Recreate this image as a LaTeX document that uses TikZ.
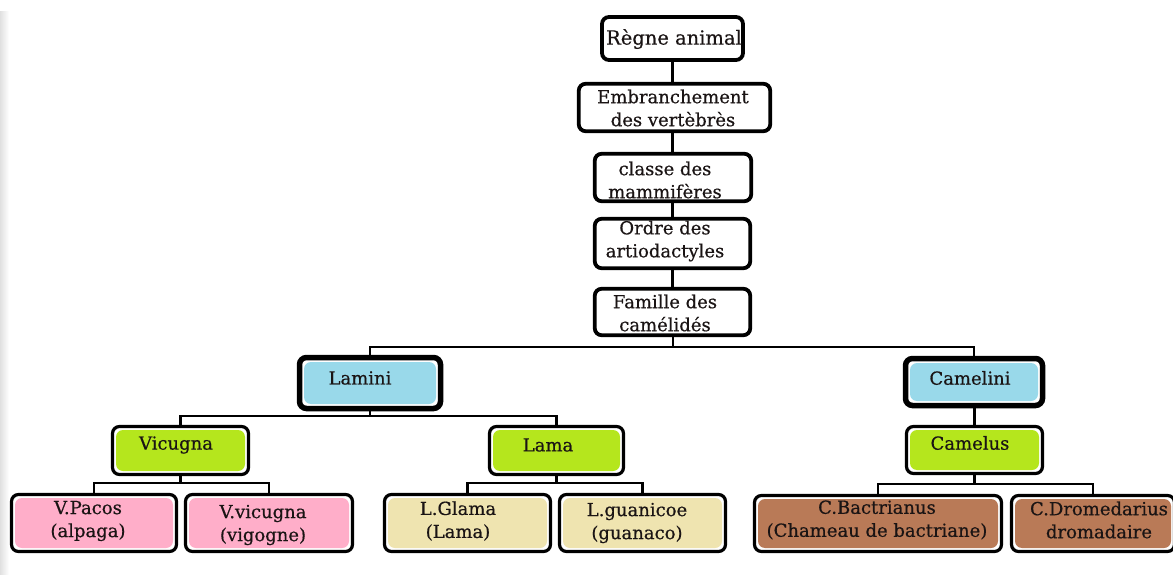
\documentclass[tikz,border=0pt]{standalone}
\usepackage{fontspec}
\setmainfont[FakeBold=0.5]{DejaVu Serif}
\definecolor{tribeblue}{HTML}{99D9EA}
\definecolor{genusgreen}{HTML}{B5E61D}
\definecolor{sppink}{HTML}{FFAEC9}
\definecolor{spcream}{HTML}{EFE4B0}
\definecolor{spbrown}{HTML}{B97A57}
\definecolor{ink}{HTML}{1A1414}
\begin{document}
\begin{tikzpicture}[x=1pt,y=-1pt,
  boxbase/.style={draw=black, fill=white, rounded corners=7pt, inner sep=0pt},
  dims/.style 2 args={minimum width=#1, minimum height=#2},
  topbox/.style={boxbase, line width=3.8pt},
  tribebox/.style={boxbase, line width=5.5pt, inset={tribeblue}{4.5pt}},
  genusbox/.style={boxbase, line width=3.2pt, inset={genusgreen}{3.5pt}},
  spbox/.style={boxbase, line width=3.2pt, inset={#1}{3.5pt}},
  inset/.style 2 args={path picture={\fill[#1]
      ([xshift=#2,yshift=-#2]path picture bounding box.north west) rectangle
      ([xshift=-#2,yshift=#2]path picture bounding box.south east);}},
  txt/.style={align=center, inner sep=0pt, text=ink, font=\fontsize{18}{23}\selectfont},
  conn/.style={draw=black, line width=2.3pt}]

\clip (0,0) rectangle (1173,575);
\fill[white] (0,0) rectangle (1173,575);
\shade[left color=black!12, right color=white] (0,12) rectangle (9,575);

% central chain
\node[topbox, dims={141pt}{43pt}] (regne) at (672.5,38.5) {};
\node[topbox, dims={191.5pt}{47.5pt}] (embr) at (674.5,107.5) {};
\node[topbox, dims={156.5pt}{47.5pt}] (classe) at (673,177.5) {};
\node[topbox, dims={155.5pt}{49.5pt}] (ordre) at (672.5,243.5) {};
\node[topbox, dims={155.5pt}{46.5pt}] (famille) at (672.5,312) {};

% tribes
\node[tribebox, dims={141pt}{51pt}] (lamini) at (370,383) {};
\node[tribebox, dims={137pt}{47pt}] (camelini) at (974,382) {};

% genera
\node[genusbox, dims={136pt}{48pt}] (vicugna) at (180.5,450.5) {};
\node[genusbox, dims={134pt}{48pt}] (lama) at (556.5,450.5) {};
\node[genusbox, dims={136pt}{47pt}] (camelus) at (974.5,450) {};

% species
\node[spbox=sppink, dims={165pt}{57pt}] (vpacos) at (94,523) {};
\node[spbox=sppink, dims={167pt}{57pt}] (vvicugna) at (269,523) {};
\node[spbox=spcream, dims={166pt}{57pt}] (lglama) at (467.5,523) {};
\node[spbox=spcream, dims={166pt}{57pt}] (lguanicoe) at (642.5,523) {};
\node[spbox=spbrown, dims={247pt}{56pt}] (cbact) at (878,523.5) {};
\node[spbox=spbrown, dims={163pt}{56pt}] (cdrom) at (1093,523.5) {};

% texts
\node[txt, font=\fontsize{19.5}{23}\selectfont] (t-regne) at (674,39) {Règne animal};
\node[txt] (t-embr) at (673,108) {Embranchement\\des vertèbrès};
\node[txt] (t-classe) at (665,180) {classe des\\mammifères};
\node[txt] (t-ordre) at (665,241) {Ordre des\\artiodactyles};
\node[txt] (t-famille) at (665,313) {Famille des\\camélidés};
\node[txt] (t-lamini) at (360,378) {Lamini};
\node[txt] (t-camelini) at (970,378) {Camelini};
\node[txt] (t-vicugna) at (176,445) {Vicugna};
\node[txt] (t-lama) at (548,445) {Lama};
\node[txt] (t-camelus) at (970,443) {Camelus};
\node[txt] (t-vpacos) at (88,521) {V.Pacos\\(alpaga)};
\node[txt] (t-vvicugna) at (263,525) {V.vicugna\\(vigogne)};
\node[txt] (t-lglama) at (458,521) {L.Glama\\(Lama)};
\node[txt] (t-lguanicoe) at (637,523) {L.guanicoe\\(guanaco)};
\node[txt] (t-cbact) at (877,520) {C.Bactrianus\\(Chameau de bactriane)};
\node[txt] (t-cdrom) at (1099,520) {C.Dromedarius\\dromadaire};

% connectors
\draw[conn] (regne.south) -- (regne.south |- embr.north);
\draw[conn] (embr.south -| regne.south) -- (regne.south |- classe.north);
\draw[conn] (classe.south -| regne.south) -- (regne.south |- ordre.north);
\draw[conn] (ordre.south -| regne.south) -- (regne.south |- famille.north);

\coordinate (j0) at (673,347);
\draw[conn] (famille.south -| j0) -- (j0);
\draw[conn] (lamini.north) |- (j0) -| (camelini.north);

\coordinate (j1) at (370,416);
\draw[conn] (lamini.south) -- (j1);
\draw[conn] (vicugna.north) |- (j1) -| (lama.north);

\draw[conn] (camelini.south -| camelus.north) -- (camelus.north);

\coordinate (j2) at (180.5,483);
\draw[conn] (vicugna.south) -- (j2);
\draw[conn] (vpacos.north) |- (j2) -| (vvicugna.north);

\coordinate (j3) at (556.5,483);
\draw[conn] (lama.south) -- (j3);
\draw[conn] (lglama.north) |- (j3) -| (lguanicoe.north);

\coordinate (j4) at (974.5,484);
\draw[conn] (camelus.south) -- (j4);
\draw[conn] (cbact.north) |- (j4) -| (cdrom.north);
\end{tikzpicture}
\end{document}
